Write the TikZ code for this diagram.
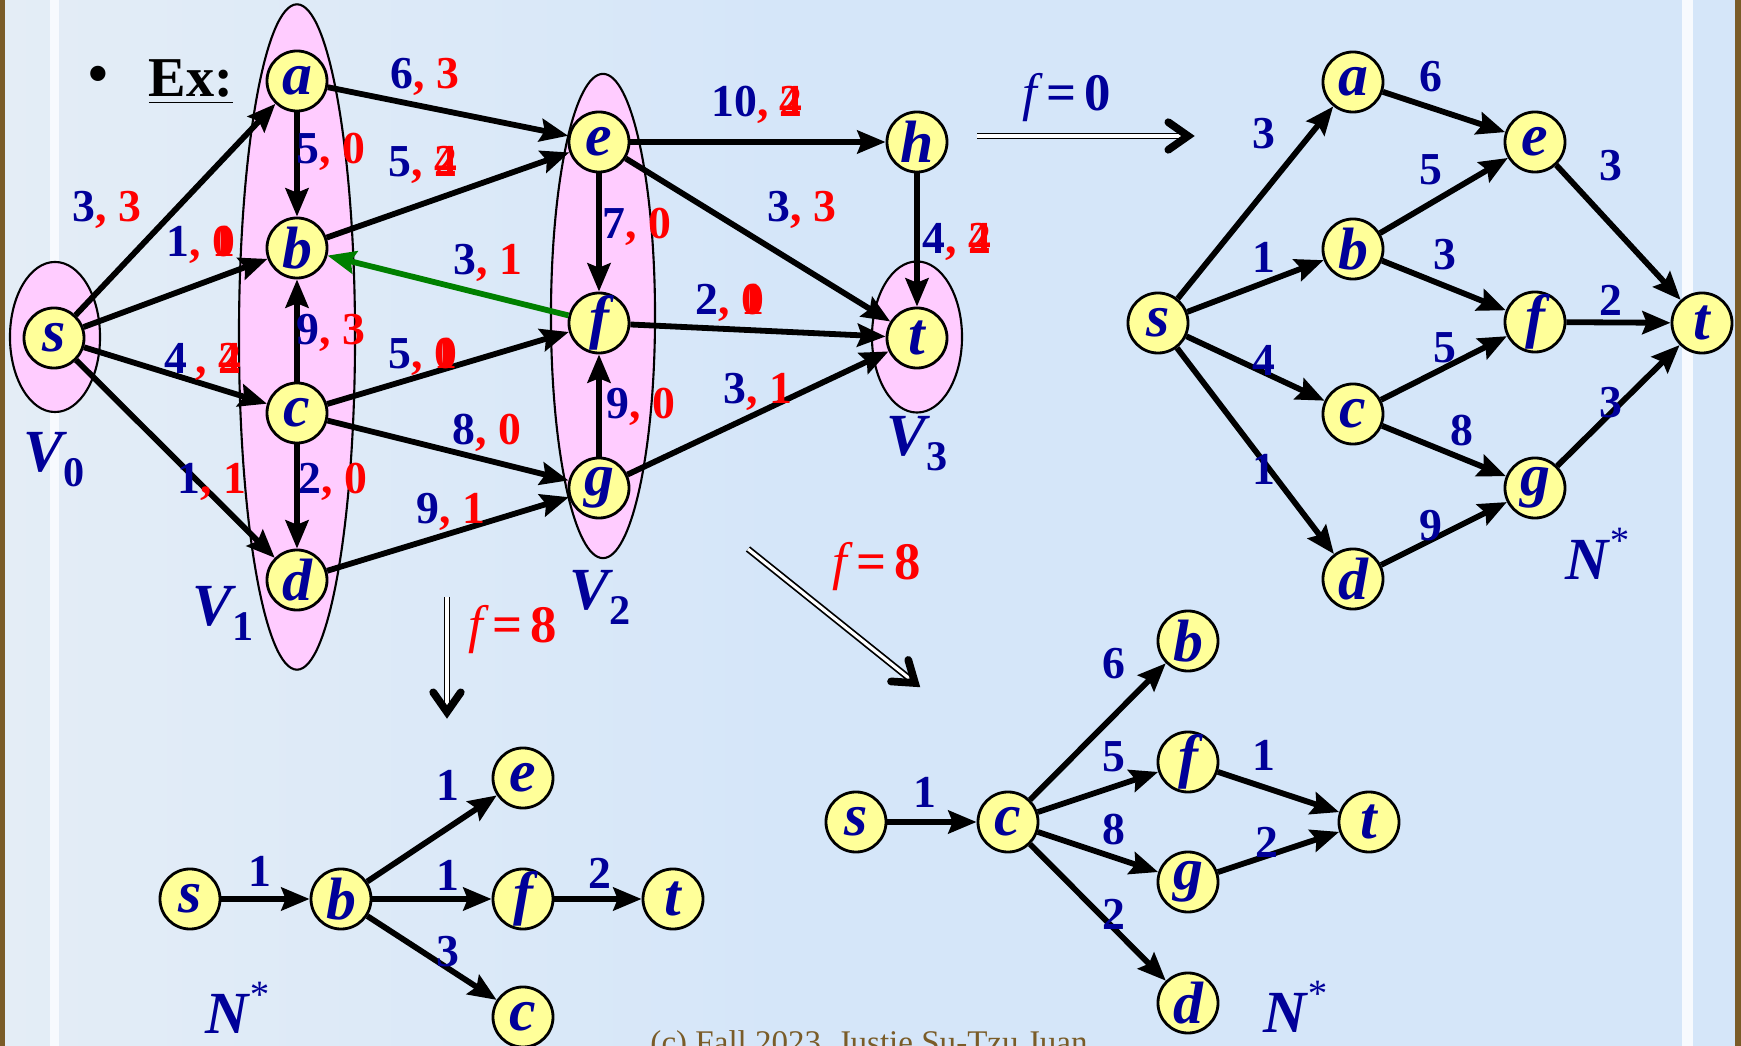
\documentclass[tikz,border=0pt]{standalone}
\usepackage{fontspec}
\setmainfont{Liberation Serif}
\usetikzlibrary{arrows.meta,calc,shapes.geometric}
\definecolor{capblue}{HTML}{000099}
\definecolor{flowred}{HTML}{FF0000}
\definecolor{nodeyellow}{HTML}{FFFF99}
\definecolor{setpink}{HTML}{FFCCFF}
\definecolor{slidebg}{HTML}{D5E6F9}
\definecolor{paleleft}{HTML}{E4EDF6}
\definecolor{framebrown}{HTML}{7A5C28}
\definecolor{cutgreen}{HTML}{008000}
\newcommand{\capflow}[2]{{\color{capblue}#1}{\color{flowred},~#2}}
\newcommand{\twoval}[2]{\rlap{#1}#2}
\newcommand{\setname}[1]{V\raisebox{-0.55ex}{\upshape\fontsize{12}{12}\selectfont #1}}
\newcommand{\resnet}{N\raisebox{0.95ex}{\mdseries\fontsize{11}{11}\selectfont *}}

\begin{document}
\begin{tikzpicture}[
  x=0.01cm, y=-0.01cm,
  vtx/.style={circle, draw, line width=0.8pt, fill=nodeyellow,
              inner sep=0pt, minimum size=0.6cm, text=capblue,
              font=\fontsize{17}{17}\selectfont\bfseries\itshape},
  grp/.style={ellipse, draw, line width=0.6pt, fill=setpink, inner sep=0pt},
  arr/.style={-{Stealth[length=8pt,width=6.5pt,inset=1.2pt]}, line width=1.65pt},
  wlbl/.style={font=\fontsize{13}{13}\selectfont\bfseries, text=capblue, inner sep=0pt},
  setlbl/.style={font=\fontsize{17}{17}\selectfont\bfseries\itshape, text=capblue, inner sep=0pt},
  dbl/.style={double, double distance=0.9pt, line width=0.5pt, shorten >=2pt},
  vtip/.style={line width=2.2pt, line cap=round, line join=miter},
  fval/.style={font=\fontsize{15}{15}\selectfont\bfseries, inner sep=0pt}
]
  % Slide background
  \useasboundingbox (0,0) rectangle (1741,1046);
  \fill[slidebg] (0,0) rectangle (1741,1046);
  \shade[left color=paleleft, right color=slidebg] (0,0) rectangle (780,1046);
  \fill[white!80!slidebg] (50,0) rectangle (59,1046);
  \fill[white!80!slidebg] (1682,0) rectangle (1693,1046);
  \fill[framebrown] (0,0) rectangle (5,1046);
  \fill[framebrown] (1735,0) rectangle (1741,1046);

  \node[font=\fontsize{16}{16}\selectfont\bfseries] (bul) at (98,79) {\textbullet};
  \node[font=\fontsize{16}{16}\selectfont\bfseries, inner sep=0pt] (ex) at (191,82) {\underline{Ex:}};

  % Layers
  \node[grp, minimum width=0.9cm, minimum height=1.5cm]   (V0) at (55,337) {};
  \node[grp, minimum width=1.16cm, minimum height=6.65cm] (V1) at (297,337) {};
  \node[grp, minimum width=1.04cm, minimum height=4.84cm] (V2) at (603,316) {};
  \node[grp, minimum width=0.9cm, minimum height=1.51cm]  (V3) at (917,337) {};
  \node[setlbl] (lv0) at (54,460) {\setname{0}};
  \node[setlbl] (lv1) at (223,613) {\setname{1}};
  \node[setlbl] (lv2) at (600,597) {\setname{2}};
  \node[setlbl] (lv3) at (917,444) {\setname{3}};

  % Layered network
  \node[vtx] (s) at (54,338)  {s};
  \node[vtx] (a) at (297,81)  {a};
  \node[vtx] (b) at (297,248) {b};
  \node[vtx] (c) at (297,413) {c};
  \node[vtx] (d) at (297,580) {d};
  \node[vtx] (e) at (599,142) {e};
  \node[vtx] (f) at (599,323) {f};
  \node[vtx] (g) at (599,488) {g};
  \node[vtx] (h) at (917,142) {h};
  \node[vtx] (t) at (917,338) {t};

  \draw[arr] (s) -- (a);
  \draw[arr] (s) -- (b);
  \draw[arr] (s) -- (c);
  \draw[arr] (s) -- (d);
  \draw[arr] (a) -- (b);
  \draw[arr] (c) -- (b);
  \draw[arr] (c) -- (d);
  \draw[arr] (a) -- (e);
  \draw[arr] (b) -- (e);
  \draw[arr] (c) -- (f);
  \draw[arr] (c) -- (g);
  \draw[arr] (d) -- (g);
  \draw[arr, cutgreen] (f) -- (b);
  \draw[arr] (e) -- (f);
  \draw[arr] (g) -- (f);
  \draw[arr] (e) -- (h);
  \draw[arr] (h) -- (t);
  \draw[arr] (e) -- (t);
  \draw[arr] (f) -- (t);
  \draw[arr] (g) -- (t);

  \node[wlbl] (l-sa) at (107,210) {\capflow{3}{3}};
  \node[wlbl] (l-sb) at (201,245) {\capflow{1}{\twoval{0}{1}}};
  \node[wlbl] (l-sc) at (203,362) {\capflow{4\,}{\twoval{2}{4}}};
  \node[wlbl] (l-sd) at (212,482) {\capflow{1}{1}};
  \node[wlbl] (l-ab) at (331,152) {\capflow{5}{0}};
  \node[wlbl] (l-cb) at (331,333) {\capflow{9}{3}};
  \node[wlbl] (l-cd) at (333,482) {\capflow{2}{0}};
  \node[wlbl] (l-ae) at (425,77)  {\capflow{6}{3}};
  \node[wlbl] (l-be) at (423,165) {\capflow{5}{\twoval{2}{4}}};
  \node[wlbl] (l-fb) at (488,263) {\capflow{3}{1}};
  \node[wlbl] (l-cf) at (423,357) {\capflow{5}{\twoval{0}{1}}};
  \node[wlbl] (l-cg) at (487,433) {\capflow{8}{0}};
  \node[wlbl] (l-dg) at (451,512) {\capflow{9}{1}};
  \node[wlbl] (l-eh) at (757,105) {\capflow{10}{\twoval{2}{4}}};
  \node[wlbl] (l-ef) at (637,227) {\capflow{7}{0}};
  \node[wlbl] (l-et) at (802,210) {\capflow{3}{3}};
  \node[wlbl] (l-ht) at (957,242) {\capflow{4}{\twoval{2}{4}}};
  \node[wlbl] (l-ft) at (730,303) {\capflow{2}{\twoval{0}{1}}};
  \node[wlbl] (l-gf) at (641,407) {\capflow{9}{0}};
  \node[wlbl] (l-gt) at (758,392) {\capflow{3}{1}};

  % Phase arrows
  \coordinate (p0a) at (977,136);  \coordinate (p0b) at (1188,136);
  \draw[dbl] (p0a) -- (p0b);
  \draw[vtip] ($(p0b)!0.24cm!35:(p0a)$) -- (p0b) -- ($(p0b)!0.24cm!-35:(p0a)$);
  \node[fval, text=capblue] (f0) at (1067,98) {{\mdseries\itshape f}\,=\,0};

  \coordinate (p1a) at (447,597);  \coordinate (p1b) at (447,712);
  \draw[dbl] (p1a) -- (p1b);
  \draw[vtip] ($(p1b)!0.24cm!35:(p1a)$) -- (p1b) -- ($(p1b)!0.24cm!-35:(p1a)$);
  \node[fval, text=flowred] (f1) at (513,630) {{\mdseries\itshape f}\,=\,8};

  \coordinate (p2a) at (748,549);  \coordinate (p2b) at (915,683);
  \draw[dbl] (p2a) -- (p2b);
  \draw[vtip] ($(p2b)!0.24cm!35:(p2a)$) -- (p2b) -- ($(p2b)!0.24cm!-35:(p2a)$);
  \node[fval, text=flowred] (f2) at (877,567) {{\mdseries\itshape f}\,=\,8};

  % Auxiliary network, f = 0
  \node[vtx] (rs) at (1158,323) {s};
  \node[vtx] (ra) at (1353,82)  {a};
  \node[vtx] (rb) at (1353,249) {b};
  \node[vtx] (rc) at (1353,414) {c};
  \node[vtx] (rd) at (1353,579) {d};
  \node[vtx] (re) at (1535,142) {e};
  \node[vtx] (rf) at (1535,322) {f};
  \node[vtx] (rg) at (1535,488) {g};
  \node[vtx] (rt) at (1702,323) {t};

  \draw[arr] (rs) -- (ra);
  \draw[arr] (rs) -- (rb);
  \draw[arr] (rs) -- (rc);
  \draw[arr] (rs) -- (rd);
  \draw[arr] (ra) -- (re);
  \draw[arr] (rb) -- (re);
  \draw[arr] (rb) -- (rf);
  \draw[arr] (rc) -- (rf);
  \draw[arr] (rc) -- (rg);
  \draw[arr] (rd) -- (rg);
  \draw[arr] (re) -- (rt);
  \draw[arr] (rf) -- (rt);
  \draw[arr] (rg) -- (rt);

  \node[wlbl] (l-rsa) at (1264,134) {3};
  \node[wlbl] (l-rsb) at (1264,257) {1};
  \node[wlbl] (l-rsc) at (1264,360) {4};
  \node[wlbl] (l-rsd) at (1264,469) {1};
  \node[wlbl] (l-rae) at (1431,77)  {6};
  \node[wlbl] (l-rbe) at (1431,170) {5};
  \node[wlbl] (l-rbf) at (1445,255) {3};
  \node[wlbl] (l-rcf) at (1445,348) {5};
  \node[wlbl] (l-rcg) at (1462,431) {8};
  \node[wlbl] (l-rdg) at (1431,526) {9};
  \node[wlbl] (l-ret) at (1611,166) {3};
  \node[wlbl] (l-rft) at (1611,300) {2};
  \node[wlbl] (l-rgt) at (1611,403) {3};
  \node[setlbl] (rn) at (1597,554) {\resnet};

  % Auxiliary network, below
  \node[vtx] (ls) at (190,899)  {s};
  \node[vtx] (lb) at (341,899)  {b};
  \node[vtx] (le) at (523,778)  {e};
  \node[vtx] (lf) at (523,899)  {f};
  \node[vtx] (lc) at (523,1017) {c};
  \node[vtx] (lt) at (673,899)  {t};

  \draw[arr] (ls) -- (lb);
  \draw[arr] (lb) -- (le);
  \draw[arr] (lb) -- (lf);
  \draw[arr] (lb) -- (lc);
  \draw[arr] (lf) -- (lt);

  \node[wlbl] (l-lsb) at (260,871) {1};
  \node[wlbl] (l-lbe) at (448,785) {1};
  \node[wlbl] (l-lbf) at (448,875) {1};
  \node[wlbl] (l-lbc) at (448,952) {3};
  \node[wlbl] (l-lft) at (600,873) {2};
  \node[setlbl] (ln) at (237,1008) {\resnet};

  % Auxiliary network, lower right
  \node[vtx] (ms) at (856,822)  {s};
  \node[vtx] (mc) at (1008,822) {c};
  \node[vtx] (mb) at (1188,641) {b};
  \node[vtx] (mf) at (1188,762) {f};
  \node[vtx] (mg) at (1188,882) {g};
  \node[vtx] (md) at (1188,1003) {d};
  \node[vtx] (mt) at (1369,822) {t};

  \draw[arr] (ms) -- (mc);
  \draw[arr] (mc) -- (mb);
  \draw[arr] (mc) -- (mf);
  \draw[arr] (mc) -- (mg);
  \draw[arr] (mc) -- (md);
  \draw[arr] (mf) -- (mt);
  \draw[arr] (mg) -- (mt);

  \node[wlbl] (l-msc) at (925,792)  {1};
  \node[wlbl] (l-mcb) at (1114,664) {6};
  \node[wlbl] (l-mcf) at (1114,757) {5};
  \node[wlbl] (l-mcg) at (1114,830) {8};
  \node[wlbl] (l-mcd) at (1114,914) {2};
  \node[wlbl] (l-mft) at (1264,755) {1};
  \node[wlbl] (l-mgt) at (1267,842) {2};
  \node[setlbl] (mn) at (1295,1007) {\resnet};

  % Footer, cut by the slide edge
  \node[font=\fontsize{9.4}{9.4}\selectfont, text=framebrown, anchor=north, inner sep=0pt]
    (foot) at (869,1030) {(c) Fall 2023, Justie Su-Tzu Juan};
\end{tikzpicture}
\end{document}
